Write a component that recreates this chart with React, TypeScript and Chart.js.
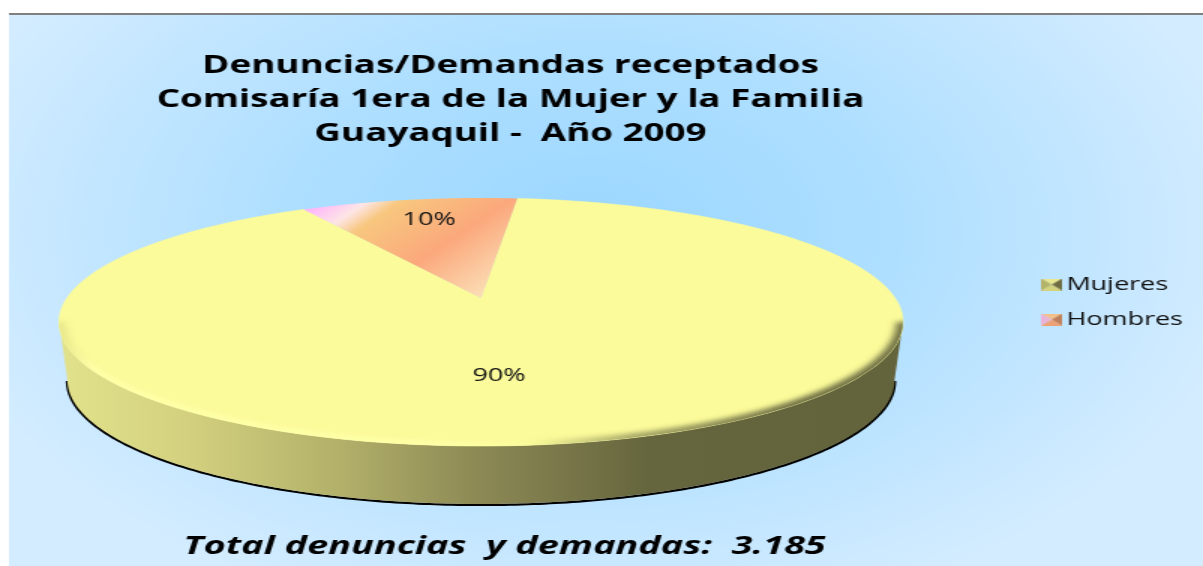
import React, { useEffect, useRef } from "react";
import { Chart, registerables } from "chart.js";

Chart.register(...registerables);

const categories = ["Mujeres", "Hombres"];
const seriesValues = [90, 10];
const titleLines = [
  "Denuncias/Demandas receptados",
  "Comisaría 1era de la Mujer y la Familia",
  "Guayaquil -  Año 2009",
];
const footerText = "Total denuncias  y demandas:  3.185";
const sliceColors = ["#fbfb9b", "#fba87c"];

// The picture is a horizontally stretched image: the canvas is drawn narrow and shown wide.
const VIEW_W = 1203;
const VIEW_H = 566;
const S = 1.5;
const CW = Math.round(VIEW_W / S);

// Pie geometry in view pixels (perspective projection of the unit disc)
const ELL_CX = 481;
const ELL_CY = 322;
const ELL_A = 422;
const ELL_B = 124;
const TIP_UP = 24;
const PERSP = 48 / 248;
const DISC_A = ELL_A * Math.sqrt(1 - PERSP * PERSP);
const WALL = 58;
const WALL_NARROW = 0.98;
const labelDisc = [
  [0.039, -0.567],
  [-0.144, 0.77],
];

function proj(u: number, v: number, depth = 0) {
  const w = 1 + PERSP * v;
  const n = depth ? WALL_NARROW : 1;
  return {
    x: (ELL_CX + (n * DISC_A * u) / w) / S,
    y: ELL_CY - (ELL_B * v + TIP_UP) / w + depth,
  };
}
const onCircle = (a: number, depth = 0) => proj(Math.cos(a), -Math.sin(a), depth);

function makeIcon(top: string, left: string, right: string, bottom: string) {
  const c = document.createElement("canvas");
  c.width = 14;
  c.height = 12;
  const g = c.getContext("2d")!;
  const tri = (col: string, pts: number[][]) => {
    g.fillStyle = col;
    g.beginPath();
    pts.forEach((p, i) => (i ? g.lineTo(p[0], p[1]) : g.moveTo(p[0], p[1])));
    g.closePath();
    g.fill();
  };
  tri(top, [[0, 0], [14, 0], [7, 6]]);
  tri(bottom, [[0, 12], [14, 12], [7, 6]]);
  tri(left, [[0, 0], [0, 12], [7, 6]]);
  tri(right, [[14, 0], [14, 12], [7, 6]]);
  return c;
}

export default function App() {
  const ref = useRef<HTMLCanvasElement | null>(null);
  useEffect(() => {
    const canvas = ref.current!;
    const icons = [
      makeIcon("#e9e88f", "#b5b36a", "#6f6d40", "#d4d27c"),
      makeIcon("#f3c08a", "#eab4d8", "#c07f58", "#eda276"),
    ];
    const artPlugin = {
      id: "art",
      beforeDraw(chart: any) {
        const ctx = chart.ctx;
        ctx.save();
        ctx.fillStyle = "#ffffff";
        ctx.fillRect(0, 0, CW, VIEW_H);
        ctx.beginPath();
        ctx.rect(9 / S, 15, CW, VIEW_H);
        ctx.clip();
        ctx.translate(590 / S, 230);
        ctx.scale(660 / S / 400, 1);
        const g = ctx.createRadialGradient(0, 0, 0, 0, 0, 400);
        g.addColorStop(0, "#9bd7ff");
        g.addColorStop(0.45, "#aedfff");
        g.addColorStop(1, "#d3ecff");
        ctx.fillStyle = g;
        ctx.fillRect(-1000, -1000, 3000, 3000);
        ctx.restore();
        ctx.fillStyle = "#808080";
        ctx.fillRect(9 / S, 13, CW, 2);
      },
      afterLayout(chart: any) {
        chart.boxes.forEach((b: any) => {
          if (b.position === "top") {
            b.left -= 59;
            b.right -= 59;
          }
          if (b.position === "bottom") {
            b.left -= 63;
            b.right -= 63;
          }
        });
      },
      beforeDatasetDraw(chart: any, args: any) {
        const ctx = chart.ctx;
        const arcs = chart.getDatasetMeta(args.index).data;
        const N = 240;
        const ts = Array.from({ length: N + 1 }, (_, i) => i / N);
        const aL = Math.PI - Math.asin(PERSP);
        const aR = Math.asin(PERSP);
        const lower = ts.map((t) => aL + (aR - aL) * t);

        // black under-edge
        ctx.save();
        ctx.beginPath();
        lower.forEach((a, i) => {
          const p = onCircle(a, WALL);
          i ? ctx.lineTo(p.x, p.y + 1) : ctx.moveTo(p.x, p.y + 1);
        });
        ctx.strokeStyle = "#000000";
        ctx.lineWidth = 2.2;
        ctx.stroke();
        ctx.restore();

        // wall
        const wall = ctx.createLinearGradient(60 / S, 0, 900 / S, 0);
        wall.addColorStop(0, "#e2e28c");
        wall.addColorStop(0.16, "#d2d07e");
        wall.addColorStop(0.33, "#b3b16a");
        wall.addColorStop(0.5, "#8c8955");
        wall.addColorStop(0.7, "#66663e");
        wall.addColorStop(1, "#64643c");
        ctx.beginPath();
        lower.forEach((a, i) => {
          const p = onCircle(a, 0);
          i ? ctx.lineTo(p.x, p.y) : ctx.moveTo(p.x, p.y);
        });
        [...lower].reverse().forEach((a) => {
          const p = onCircle(a, WALL);
          ctx.lineTo(p.x, p.y);
        });
        ctx.closePath();
        ctx.fillStyle = wall;
        ctx.fill();

        // top-face slices, using the arc elements' own angles
        const slicePath = (el: any) => {
          const c = proj(0, 0);
          ctx.beginPath();
          ctx.moveTo(c.x, c.y);
          const steps = 300;
          for (let i = 0; i <= steps; i++) {
            const a = el.startAngle + ((el.endAngle - el.startAngle) * i) / steps;
            const p = onCircle(a);
            ctx.lineTo(p.x, p.y);
          }
          ctx.closePath();
        };
        // Mujeres
        slicePath(arcs[0]);
        ctx.fillStyle = sliceColors[0];
        ctx.fill();
        ctx.strokeStyle = sliceColors[0];
        ctx.lineWidth = 0.6;
        ctx.stroke();

        // bevel along the near edge of the top face
        ctx.save();
        ctx.beginPath();
        ts.map((t) => t * Math.PI * 2).forEach((a, i) => {
          const p = onCircle(a);
          i ? ctx.lineTo(p.x, p.y) : ctx.moveTo(p.x, p.y);
        });
        ctx.closePath();
        ctx.clip();
        const bevel = ctx.createLinearGradient(60 / S, 0, 900 / S, 0);
        bevel.addColorStop(0, "#e6e68a");
        bevel.addColorStop(0.04, "#ffffa8");
        bevel.addColorStop(0.45, "#ffffa8");
        bevel.addColorStop(0.56, "#fbfb9b");
        bevel.addColorStop(0.68, "#a9a868");
        bevel.addColorStop(0.88, "#6f6f44");
        bevel.addColorStop(1, "#6f6f44");
        ctx.filter = "blur(2.4px)";
        ctx.beginPath();
        lower.forEach((a, i) => {
          const p = onCircle(a);
          i ? ctx.lineTo(p.x, p.y) : ctx.moveTo(p.x, p.y);
        });
        ctx.strokeStyle = bevel;
        ctx.lineWidth = 9;
        ctx.stroke();
        ctx.restore();

        // Hombres
        slicePath(arcs[1]);
        const x0 = 204.7;
        const hg = ctx.createLinearGradient(x0, 210, x0 + 100, 310);
        hg.addColorStop(0, "#ffb4fc");
        hg.addColorStop(0.16, "#fde6e6");
        hg.addColorStop(0.27, "#f8c77e");
        hg.addColorStop(0.63, sliceColors[1]);
        hg.addColorStop(1, "#fcdcb4");
        ctx.fillStyle = hg;
        ctx.fill();
        return false;
      },
      afterDatasetsDraw(chart: any) {
        const ctx = chart.ctx;
        const total = seriesValues.reduce((a, b) => a + b, 0);
        ctx.save();
        ctx.fillStyle = "#111111";
        ctx.font = "18px 'Open Sans'";
        ctx.textAlign = "center";
        ctx.textBaseline = "middle";
        seriesValues.forEach((v, i) => {
          const p = proj(labelDisc[i][0], labelDisc[i][1]);
          ctx.fillText(`${Math.round((v / total) * 100)}%`, p.x, p.y + 2);
        });
        ctx.restore();
      },
    };
    const chart = new Chart(canvas, {
      type: "pie",
      data: {
        labels: categories,
        datasets: [{ data: seriesValues, backgroundColor: sliceColors, borderWidth: 0 }],
      },
      options: {
        responsive: false,
        animation: false,
        rotation: 6,
        layout: { padding: { top: 38, right: 3.3 } },
        events: [],
        plugins: {
          tooltip: { enabled: false },
          title: {
            display: true,
            text: titleLines,
            color: "#000000",
            font: { family: "'Open Sans'", size: 24.5, weight: "bold", lineHeight: 1.39 },
            padding: { top: 11, bottom: 6 },
          },
          subtitle: {
            display: true,
            position: "bottom",
            text: footerText,
            color: "#000000",
            font: { family: "'Open Sans'", size: 25.2, weight: "bold", style: "italic", lineHeight: 1.2 },
            padding: { top: 0, bottom: 4 },
          },
          legend: {
            display: true,
            position: "right",
            labels: {
              usePointStyle: true,
              pointStyleWidth: 1.5,
              color: "#111111",
              font: { family: "'Open Sans'", size: 18 },
              padding: 17,
              generateLabels: () =>
                categories.map((text, index) => ({
                  text,
                  index,
                  fontColor: "#111111",
                  fillStyle: sliceColors[index],
                  strokeStyle: sliceColors[index],
                  lineWidth: 0,
                  hidden: false,
                  pointStyle: icons[index],
                })),
            },
          },
        },
      } as any,
      plugins: [artPlugin as any],
    });
    canvas.style.width = `${VIEW_W}px`;
    canvas.style.height = `${VIEW_H}px`;
    return () => chart.destroy();
  }, []);
  return (
    <div style={{ position: "fixed", left: 0, top: 0, width: VIEW_W, height: VIEW_H, overflow: "hidden" }}>
      <canvas ref={ref} width={CW} height={VIEW_H} style={{ display: "block" }} />
    </div>
  );
}
